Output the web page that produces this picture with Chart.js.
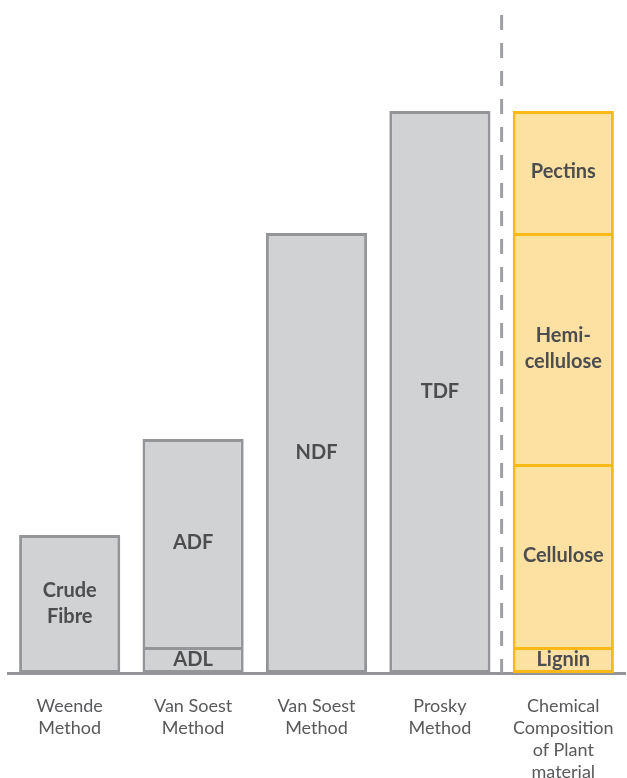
<!DOCTYPE html>
<html>
<head>
<meta charset="utf-8">
<script src="https://cdn.jsdelivr.net/npm/chart.js@4/dist/chart.umd.min.js"></script>
<style>
  body { margin: 0; background: #fff; }
  canvas { display: block; }
</style>
</head>
<body>
<canvas id="fibre-chart" width="627" height="778"></canvas>
<script>
// categories (multi-line tick labels)
const categories = [
  ["Weende", "Method"],
  ["Van Soest", "Method"],
  ["Van Soest", "Method"],
  ["Prosky", "Method"],
  ["Chemical", "Composition", "of Plant", "material"],
];

// stacked layers, bottom to top (relative amounts)
const layer1 = [13.8, 2.6, 44.0, 56.2, 2.6];
const layer2 = [null, 20.8, null, null, 18.3];
const layer3 = [null, null, null, null, 23.1];
const layer4 = [null, null, null, null, 12.2];

const layer1Labels = [["Crude", "Fibre"], ["ADL"], ["NDF"], ["TDF"], ["Lignin"]];
const layer2Labels = [null, ["ADF"], null, null, ["Cellulose"]];
const layer3Labels = [null, null, null, null, ["Hemi-", "cellulose"]];
const layer4Labels = [null, null, null, null, ["Pectins"]];

const grayFill = "#d1d2d4";
const grayLine = "#939598";
const yellowFill = "#fde1a2";
const yellowLine = "#fbb919";
const textColor = "#4d4d4f";

const fill = (c) => (c.dataIndex === 4 ? yellowFill : grayFill);
const line = (c) => (c.dataIndex === 4 ? yellowLine : grayLine);

const makeSet = (data, labels, skip) => ({
  data: data,
  segLabels: labels,
  backgroundColor: fill,
  borderColor: line,
  borderWidth: 3,
  borderSkipped: skip,
  barPercentage: 0.82,
  categoryPercentage: 1,
});

// draws the text inside each bar segment
const segmentLabels = {
  id: "segmentLabels",
  afterDatasetsDraw(chart) {
    const ctx = chart.ctx;
    ctx.save();
    ctx.font = "bold 20px Lato";
    ctx.fillStyle = textColor;
    ctx.textAlign = "center";
    ctx.textBaseline = "middle";
    chart.data.datasets.forEach((ds, i) => {
      const meta = chart.getDatasetMeta(i);
      meta.data.forEach((el, j) => {
        const lines = ds.segLabels[j];
        if (!lines || ds.data[j] == null) return;
        const p = el.getProps(["x", "y", "base"], true);
        const cy = (p.y + p.base) / 2;
        const lh = 26;
        lines.forEach((t, k) => {
          ctx.fillText(t, p.x, cy + (k - (lines.length - 1) / 2) * lh);
        });
      });
    });
    ctx.restore();
  },
};

// dashed separator between the methods and the plant composition
const separator = {
  id: "separator",
  beforeDatasetsDraw(chart) {
    const x = chart.scales.x;
    const area = chart.chartArea;
    const sx = (x.getPixelForValue(3) + x.getPixelForValue(4)) / 2;
    const ctx = chart.ctx;
    ctx.save();
    ctx.strokeStyle = "#9d9fa2";
    ctx.lineWidth = 3;
    ctx.setLineDash([15, 13]);
    ctx.beginPath();
    ctx.moveTo(sx, area.top);
    ctx.lineTo(sx, area.bottom);
    ctx.stroke();
    ctx.restore();
  },
};

new Chart(document.getElementById("fibre-chart"), {
  type: "bar",
  data: {
    labels: categories,
    datasets: [
      makeSet(layer1, layer1Labels, false),
      makeSet(layer2, layer2Labels, "bottom"),
      makeSet(layer3, layer3Labels, "bottom"),
      makeSet(layer4, layer4Labels, "bottom"),
    ],
  },
  options: {
    responsive: false,
    animation: false,
    layout: { padding: { left: 8, right: 2, top: 15, bottom: 0 } },
    plugins: { legend: { display: false }, tooltip: { enabled: false } },
    scales: {
      x: {
        stacked: true,
        grid: { display: false, drawTicks: false },
        border: { display: true, color: grayLine, width: 3 },
        ticks: {
          color: "#58595b",
          font: { family: "Lato", size: 18, lineHeight: 1.22 },
          padding: 22,
          maxRotation: 0,
          autoSkip: false,
        },
        afterFit: (scale) => {
          scale.height = 105;
          scale.paddingLeft = 0;
          scale.paddingRight = 0;
        },
      },
      y: {
        stacked: true,
        display: false,
        min: 0,
        max: 65.8,
      },
    },
  },
  plugins: [separator, segmentLabels],
});
</script>
</body>
</html>
